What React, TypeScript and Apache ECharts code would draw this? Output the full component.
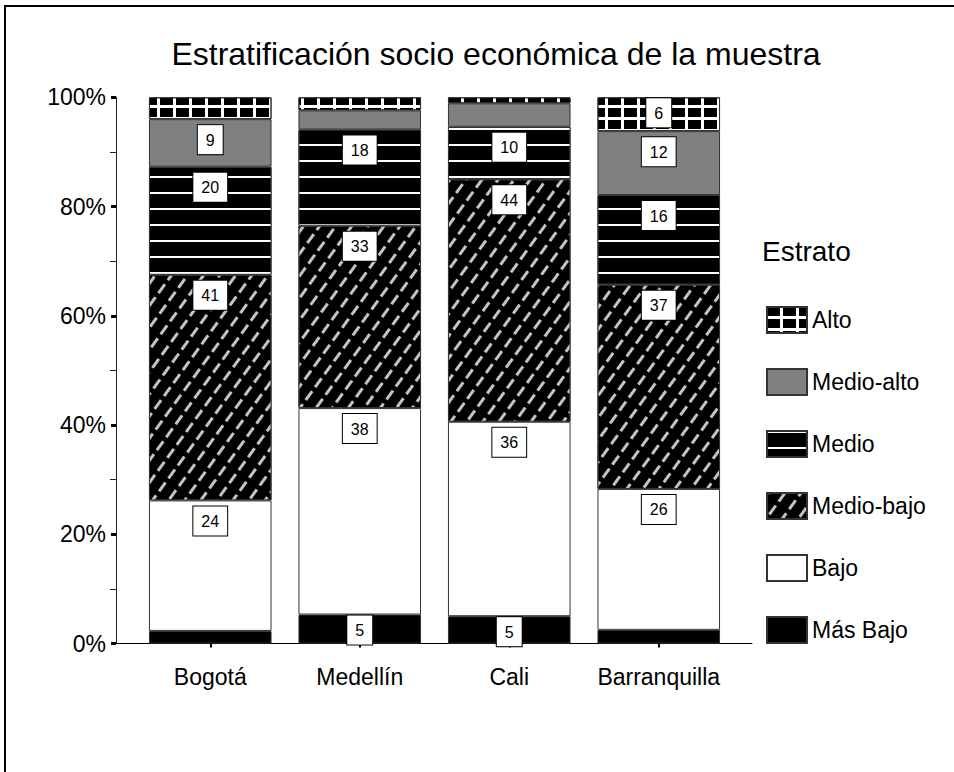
import React, { useEffect, useRef } from "react";
import * as echarts from "echarts";

const categories = ["Bogotá", "Medellín", "Cali", "Barranquilla"];
const seriesNames = ["Más Bajo", "Bajo", "Medio-bajo", "Medio", "Medio-alto", "Alto"];
const masBajo = [2.3, 5.3, 5.0, 2.5];
const bajo = [23.9, 37.8, 35.6, 25.8];
const medioBajo = [41.3, 33.4, 44.4, 37.4];
const medio = [19.8, 17.6, 9.6, 16.4];
const medioAlto = [8.7, 3.5, 4.3, 11.7];
const alto = [4.0, 2.4, 1.1, 6.2];
const legendOrder = ["Alto", "Medio-alto", "Medio", "Medio-bajo", "Bajo", "Más Bajo"];
const yTicks = [0, 20, 40, 60, 80, 100];

const FONT = "'Liberation Sans', Arial, sans-serif";

const styles: Record<string, any> = {
  "Más Bajo": { color: "#000000" },
  Bajo: { color: "#ffffff" },
  "Medio-bajo": {
    color: "#000000",
    decal: {
      symbol: "rect",
      symbolSize: 1,
      color: "#c4c4c4",
      dashArrayX: [[11, 5]],
      dashArrayY: [3, 10],
      rotation: -Math.PI * 0.3,
    },
  },
  Medio: {
    color: "#000000",
    decal: {
      symbol: "rect",
      symbolSize: 1,
      color: "#ffffff",
      dashArrayX: [1, 0],
      dashArrayY: [2, 14],
      rotation: 0,
    },
  },
  "Medio-alto": { color: "#808080" },
  Alto: {
    color: "#ffffff",
    decal: {
      symbol: "rect",
      symbolSize: 1,
      color: "#000000",
      dashArrayX: [13, 3],
      dashArrayY: [9, 3],
      rotation: 0,
    },
  },
};

const values: Record<string, number[]> = {
  "Más Bajo": masBajo,
  Bajo: bajo,
  "Medio-bajo": medioBajo,
  Medio: medio,
  "Medio-alto": medioAlto,
  Alto: alto,
};

export default function App() {
  const ref = useRef<HTMLDivElement>(null);
  useEffect(() => {
    if (!ref.current) return;
    const chart = echarts.init(ref.current, null, { renderer: "svg" });
    const series = seriesNames.map((name) => ({
      name,
      type: "bar",
      stack: "total",
      xAxisIndex: 0,
      yAxisIndex: 0,
      barWidth: "82%",
      itemStyle: {
        ...styles[name],
        borderColor: "#333",
        borderWidth: 1,
      },
      label: {
        show: true,
        position: "insideTop",
        distance: 6,
        formatter: (p: any) => String(Math.round(p.value)),
        backgroundColor: "#fff",
        borderColor: "#000",
        borderWidth: 1,
        padding: [6, 8, 5, 8],
        fontSize: 16,
        lineHeight: 18,
        color: "#000",
        fontFamily: FONT,
      },
      data: values[name].map((v) => ({
        value: v,
        label: { show: v >= 5, distance: v < 8 ? 1 : 6 },
      })),
    }));

    const option: any = {
      animation: false,
      backgroundColor: "#fff",
      textStyle: { fontFamily: FONT, color: "#000" },
      title: [
        {
          text: "Estratificación socio económica de la muestra",
          left: 496,
          textAlign: "center",
          top: 38,
          padding: 0,
          textStyle: { fontSize: 32, fontWeight: "normal", color: "#000", fontFamily: FONT },
        },
        {
          text: "Estrato",
          left: 762,
          top: 237,
          padding: 0,
          textStyle: { fontSize: 28, fontWeight: "normal", color: "#000", fontFamily: FONT },
        },
      ],
      legend: {
        data: legendOrder,
        orient: "vertical",
        left: 761,
        top: 301,
        itemWidth: 40,
        itemHeight: 26,
        itemGap: 34,
        icon: "rect",
        textStyle: { fontSize: 23, lineHeight: 24, color: "#000", fontFamily: FONT },
      },
      grid: [
        { left: 135.5, right: 220.5, top: 97.3, bottom: 128.5 },
        { left: 116, right: 202, top: 97.3, bottom: 128.5 },
      ],
      xAxis: [
        {
          type: "category",
          gridIndex: 0,
          data: categories,
          axisLine: { show: false },
          axisTick: { show: true, alignWithLabel: true, length: 4, lineStyle: { color: "#000", width: 2 } },
          axisLabel: { interval: 0, fontSize: 23, color: "#000", margin: 22, fontFamily: FONT },
          splitLine: { show: false },
        },
        {
          type: "value",
          gridIndex: 1,
          min: 0,
          max: 1,
          axisLine: { show: true, lineStyle: { color: "#000", width: 1 } },
          axisTick: { show: false },
          axisLabel: { show: false },
          splitLine: { show: false },
        },
      ],
      yAxis: [
        { type: "value", gridIndex: 0, min: 0, max: 100, show: false },
        {
          type: "value",
          gridIndex: 1,
          min: yTicks[0],
          max: yTicks[yTicks.length - 1],
          interval: 20,
          axisLine: { show: true, lineStyle: { color: "#222", width: 1 } },
          axisTick: { show: true, length: 5, lineStyle: { color: "#000", width: 3 } },
          minorTick: { show: true, splitNumber: 2, length: 6, lineStyle: { color: "#222", width: 1 } },
          axisLabel: { fontSize: 23, color: "#000", margin: 10, formatter: "{value}%", fontFamily: FONT },
          splitLine: { show: false },
        },
      ],
      graphic: [
        {
          type: "rect",
          shape: { x: 5, y: 6, width: 1000, height: 1000 },
          style: { fill: "none", stroke: "#000", lineWidth: 2 },
          silent: true,
        },
      ],
      series,
    };
    chart.setOption(option);
    return () => chart.dispose();
  }, []);
  return (
    <div
      ref={ref}
      style={{ position: "absolute", left: 0, top: 0, width: 954, height: 772 }}
    />
  );
}
